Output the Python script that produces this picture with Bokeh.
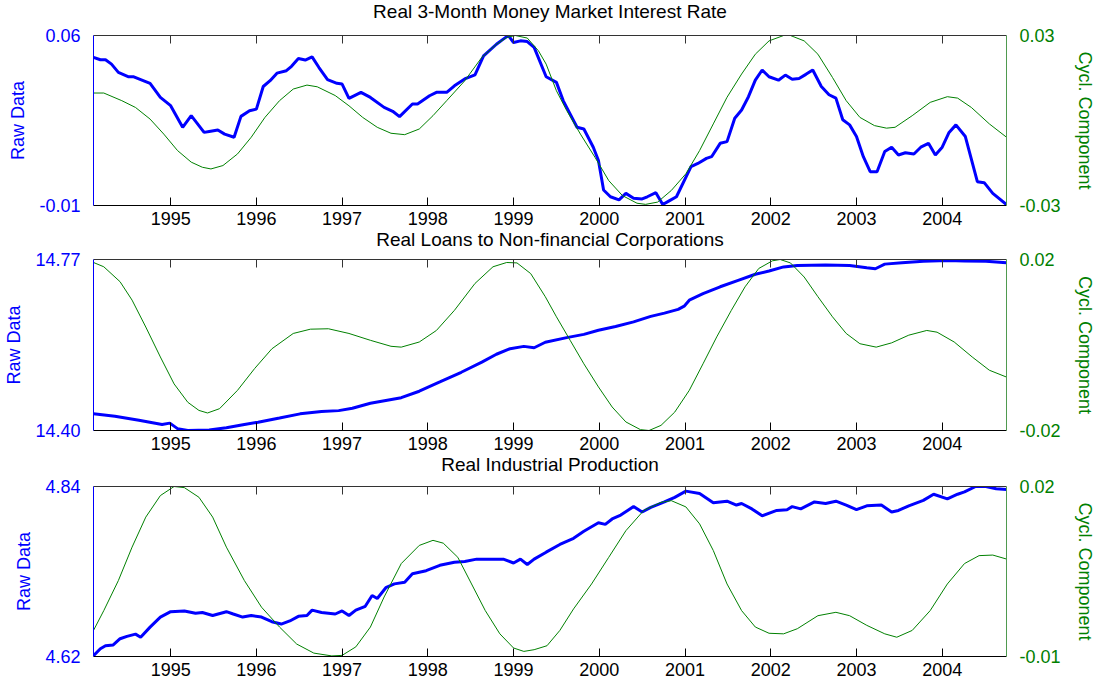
from bokeh.plotting import figure
from bokeh.models import Range1d, LinearAxis, FixedTicker, PrintfTickFormatter, Title
from bokeh.layouts import column
from bokeh.embed import file_html
from bokeh.resources import INLINE

# ---------------- data ----------------
X_START, X_END = 1994.10, 2004.75
YEAR_TICKS = [1995, 1996, 1997, 1998, 1999, 2000, 2001, 2002, 2003, 2004]

TITLES = ["Real 3-Month Money Market Interest Rate",
          "Real Loans to Non-financial Corporations",
          "Real Industrial Production"]
RAW_LABEL = "Raw Data"
CYC_LABEL = "Cycl. Component"

RAW_LIMITS = [(-0.01, 0.06), (14.40, 14.77), (4.62, 4.84)]
CYC_LIMITS = [(-0.03, 0.03), (-0.02, 0.02), (-0.01, 0.02)]

# Panel 1: real 3-month money market interest rate
RATE_T = [1994.10, 1994.18, 1994.24, 1994.31, 1994.39, 1994.51, 1994.57, 1994.76, 1994.88, 1995.00,
          1995.14, 1995.24, 1995.39, 1995.45, 1995.55, 1995.63, 1995.74, 1995.82, 1995.92, 1996.00,
          1996.08, 1996.16, 1996.24, 1996.35, 1996.41, 1996.49, 1996.57, 1996.65, 1996.73, 1996.83,
          1996.94, 1997.00, 1997.08, 1997.22, 1997.33, 1997.49, 1997.59, 1997.67, 1997.82, 1997.88,
          1998.02, 1998.10, 1998.22, 1998.31, 1998.43, 1998.55, 1998.65, 1998.80, 1998.88, 1998.94,
          1999.00, 1999.08, 1999.16, 1999.24, 1999.38, 1999.50, 1999.58, 1999.74, 1999.82, 1999.93,
          1999.99, 2000.05, 2000.13, 2000.23, 2000.31, 2000.40, 2000.50, 2000.56, 2000.66, 2000.74,
          2000.82, 2000.90, 2001.07, 2001.15, 2001.25, 2001.31, 2001.41, 2001.49, 2001.58, 2001.66,
          2001.74, 2001.82, 2001.90, 2001.98, 2002.09, 2002.17, 2002.25, 2002.33, 2002.41, 2002.49,
          2002.59, 2002.68, 2002.76, 2002.84, 2002.92, 2003.00, 2003.08, 2003.16, 2003.24, 2003.33,
          2003.41, 2003.49, 2003.57, 2003.67, 2003.75, 2003.84, 2003.92, 2004.00, 2004.08, 2004.16,
          2004.27, 2004.41, 2004.49, 2004.59, 2004.75]
RATE_RAW = [0.0510, 0.0500, 0.0500, 0.0482, 0.0448, 0.0430, 0.0430, 0.0403, 0.0345, 0.0311,
            0.0222, 0.0270, 0.0201, 0.0205, 0.0211, 0.0194, 0.0181, 0.0267, 0.0290, 0.0297,
            0.0390, 0.0414, 0.0445, 0.0455, 0.0473, 0.0505, 0.0499, 0.0512, 0.0468, 0.0418,
            0.0403, 0.0400, 0.0341, 0.0366, 0.0345, 0.0304, 0.0288, 0.0266, 0.0318, 0.0318,
            0.0352, 0.0366, 0.0366, 0.0393, 0.0421, 0.0438, 0.0516, 0.0564, 0.0585, 0.0600,
            0.0571, 0.0578, 0.0575, 0.0551, 0.0430, 0.0407, 0.0331, 0.0222, 0.0215, 0.0140,
            0.0085, -0.0036, -0.0064, -0.0077, -0.0050, -0.0070, -0.0073, -0.0064, -0.0047, -0.0096,
            -0.0080, -0.0064, 0.0060, 0.0073, 0.0094, 0.0101, 0.0156, 0.0163, 0.0259, 0.0293,
            0.0348, 0.0416, 0.0458, 0.0430, 0.0416, 0.0437, 0.0420, 0.0423, 0.0440, 0.0458,
            0.0390, 0.0356, 0.0342, 0.0253, 0.0232, 0.0184, 0.0101, 0.0039, 0.0039, 0.0122,
            0.0140, 0.0108, 0.0117, 0.0112, 0.0140, 0.0156, 0.0108, 0.0140, 0.0201, 0.0232,
            0.0184, -0.0002, -0.0006, -0.0050, -0.0096]
RATE_CYC_T = [1994.10, 1994.22, 1994.43, 1994.59, 1994.76, 1994.92, 1995.08, 1995.24, 1995.37, 1995.47,
              1995.61, 1995.78, 1995.94, 1996.10, 1996.27, 1996.43, 1996.59, 1996.71, 1996.92, 1997.08,
              1997.24, 1997.41, 1997.57, 1997.73, 1997.90, 1998.06, 1998.22, 1998.43, 1998.63, 1998.80,
              1998.92, 1999.02, 1999.16, 1999.29, 1999.38, 1999.50, 1999.62, 1999.78, 1999.95, 2000.11,
              2000.27, 2000.44, 2000.54, 2000.68, 2000.84, 2001.01, 2001.17, 2001.33, 2001.49, 2001.66,
              2001.82, 2001.98, 2002.15, 2002.23, 2002.39, 2002.55, 2002.72, 2002.88, 2003.04, 2003.21,
              2003.35, 2003.45, 2003.65, 2003.86, 2004.06, 2004.18, 2004.34, 2004.55, 2004.75]
RATE_CYC = [0.0097, 0.0097, 0.0070, 0.0046, 0.0005, -0.0048, -0.0106, -0.0147, -0.0165, -0.0171,
            -0.0159, -0.0118, -0.0059, 0.0011, 0.0070, 0.0111, 0.0125, 0.0119, 0.0088, 0.0052,
            0.0011, -0.0024, -0.0045, -0.0050, -0.0030, 0.0017, 0.0070, 0.0140, 0.0223, 0.0269,
            0.0293, 0.0300, 0.0291, 0.0246, 0.0199, 0.0105, 0.0035, -0.0048, -0.0130, -0.0212,
            -0.0265, -0.0292, -0.0296, -0.0288, -0.0247, -0.0188, -0.0106, -0.0012, 0.0082, 0.0164,
            0.0234, 0.0281, 0.0300, 0.0300, 0.0281, 0.0234, 0.0152, 0.0070, 0.0011, -0.0018,
            -0.0027, -0.0024, 0.0017, 0.0064, 0.0084, 0.0079, 0.0046, -0.0012, -0.0059]

# Panel 2: real loans to non-financial corporations (log level)
LOANS_T = [1994.10, 1994.35, 1994.63, 1994.90, 1994.99, 1995.08, 1995.20, 1995.45, 1995.65, 1995.86,
           1996.02, 1996.27, 1996.51, 1996.76, 1996.96, 1997.12, 1997.33, 1997.69, 1997.90, 1998.14,
           1998.39, 1998.63, 1998.80, 1998.96, 1999.12, 1999.24, 1999.37, 1999.62, 1999.82, 1999.99,
           2000.19, 2000.40, 2000.60, 2000.76, 2000.92, 2000.99, 2001.05, 2001.21, 2001.41, 2001.62,
           2001.82, 2001.98, 2002.15, 2002.31, 2002.64, 2002.92, 2003.12, 2003.22, 2003.33, 2003.53,
           2003.78, 2004.06, 2004.26, 2004.51, 2004.75]
LOANS_RAW = [14.436, 14.431, 14.422, 14.413, 14.416, 14.404, 14.400, 14.401, 14.406, 14.413,
             14.418, 14.427, 14.436, 14.441, 14.443, 14.448, 14.459, 14.471, 14.485, 14.505,
             14.526, 14.548, 14.565, 14.577, 14.582, 14.579, 14.591, 14.601, 14.608, 14.617,
             14.625, 14.635, 14.647, 14.654, 14.662, 14.669, 14.682, 14.696, 14.711, 14.725,
             14.738, 14.745, 14.754, 14.757, 14.758, 14.757, 14.752, 14.750, 14.760, 14.763,
             14.766, 14.768, 14.767, 14.766, 14.763]
LOANS_CYC_T = [1994.10, 1994.22, 1994.41, 1994.55, 1994.71, 1994.88, 1995.04, 1995.20, 1995.33, 1995.43,
               1995.57, 1995.78, 1995.98, 1996.18, 1996.43, 1996.63, 1996.84, 1997.08, 1997.33, 1997.57,
               1997.69, 1997.90, 1998.10, 1998.31, 1998.55, 1998.76, 1998.92, 1999.04, 1999.20, 1999.37,
               1999.50, 1999.66, 1999.82, 1999.99, 2000.15, 2000.31, 2000.48, 2000.58, 2000.72, 2000.88,
               2001.05, 2001.21, 2001.37, 2001.54, 2001.70, 2001.86, 2002.02, 2002.11, 2002.23, 2002.39,
               2002.55, 2002.72, 2002.88, 2003.04, 2003.23, 2003.41, 2003.61, 2003.82, 2003.94, 2004.14,
               2004.35, 2004.55, 2004.75]
LOANS_CYC = [0.0193, 0.0183, 0.0148, 0.0105, 0.0042, -0.0028, -0.0091, -0.0134, -0.0153, -0.0159,
             -0.0149, -0.0106, -0.0055, -0.0009, 0.0027, 0.0037, 0.0038, 0.0027, 0.0011, -0.0003,
             -0.0005, 0.0007, 0.0034, 0.0081, 0.0144, 0.0183, 0.0193, 0.0192, 0.0167, 0.0113,
             0.0066, 0.0011, -0.0044, -0.0098, -0.0145, -0.0180, -0.0198, -0.0200, -0.0188, -0.0157,
             -0.0106, -0.0044, 0.0019, 0.0081, 0.0136, 0.0179, 0.0197, 0.0200, 0.0192, 0.0159,
             0.0113, 0.0066, 0.0027, 0.0003, -0.0005, 0.0005, 0.0023, 0.0034, 0.0030, 0.0007,
             -0.0028, -0.0059, -0.0075]

# Panel 3: real industrial production (log level)
IP_T = [1994.10, 1994.18, 1994.24, 1994.33, 1994.41, 1994.49, 1994.59, 1994.65, 1994.76, 1994.88,
        1995.00, 1995.16, 1995.29, 1995.37, 1995.49, 1995.65, 1995.73, 1995.84, 1995.94, 1996.06,
        1996.18, 1996.29, 1996.39, 1996.49, 1996.59, 1996.65, 1996.76, 1996.92, 1997.00, 1997.08,
        1997.16, 1997.27, 1997.35, 1997.41, 1997.51, 1997.61, 1997.73, 1997.82, 1997.98, 1998.14,
        1998.31, 1998.43, 1998.57, 1998.71, 1998.88, 1999.00, 1999.08, 1999.16, 1999.24, 1999.38,
        1999.54, 1999.70, 1999.82, 1999.99, 2000.07, 2000.15, 2000.25, 2000.40, 2000.50, 2000.60,
        2000.76, 2000.88, 2001.01, 2001.17, 2001.33, 2001.49, 2001.60, 2001.66, 2001.78, 2001.90,
        2002.07, 2002.19, 2002.25, 2002.35, 2002.51, 2002.64, 2002.76, 2002.88, 2003.00, 2003.12,
        2003.29, 2003.41, 2003.49, 2003.61, 2003.78, 2003.90, 2004.06, 2004.18, 2004.26, 2004.39,
        2004.51, 2004.63, 2004.75]
IP_RAW = [4.621, 4.630, 4.634, 4.635, 4.643, 4.646, 4.649, 4.645, 4.658, 4.671,
          4.678, 4.679, 4.676, 4.677, 4.673, 4.678, 4.675, 4.671, 4.673, 4.671,
          4.665, 4.662, 4.666, 4.672, 4.673, 4.680, 4.677, 4.675, 4.679, 4.673,
          4.680, 4.685, 4.699, 4.695, 4.709, 4.714, 4.716, 4.727, 4.731, 4.738,
          4.742, 4.743, 4.746, 4.746, 4.746, 4.741, 4.746, 4.739, 4.746, 4.755,
          4.765, 4.773, 4.782, 4.793, 4.791, 4.798, 4.803, 4.814, 4.807, 4.813,
          4.820, 4.826, 4.834, 4.831, 4.819, 4.821, 4.816, 4.818, 4.811, 4.802,
          4.809, 4.810, 4.814, 4.811, 4.820, 4.818, 4.821, 4.816, 4.810, 4.815,
          4.816, 4.807, 4.809, 4.815, 4.822, 4.830, 4.824, 4.830, 4.833, 4.840,
          4.840, 4.837, 4.836]
IP_CYC_T = [1994.10, 1994.22, 1994.39, 1994.55, 1994.71, 1994.88, 1995.04, 1995.16, 1995.33, 1995.49,
            1995.65, 1995.86, 1996.06, 1996.27, 1996.47, 1996.67, 1996.88, 1997.00, 1997.16, 1997.33,
            1997.49, 1997.69, 1997.90, 1998.06, 1998.18, 1998.35, 1998.51, 1998.67, 1998.84, 1999.00,
            1999.12, 1999.24, 1999.39, 1999.54, 1999.70, 1999.91, 2000.11, 2000.31, 2000.52, 2000.72,
            2000.84, 2001.01, 2001.17, 2001.33, 2001.49, 2001.66, 2001.82, 2001.98, 2002.15, 2002.31,
            2002.55, 2002.76, 2002.92, 2003.12, 2003.33, 2003.47, 2003.65, 2003.86, 2004.06, 2004.26,
            2004.43, 2004.59, 2004.75]
IP_CYC = [-0.0054, -0.0019, 0.0034, 0.0093, 0.0146, 0.0184, 0.0200, 0.0198, 0.0181, 0.0146,
          0.0093, 0.0034, -0.0013, -0.0048, -0.0078, -0.0094, -0.0099, -0.0098, -0.0083, -0.0048,
          0.0005, 0.0064, 0.0096, 0.0105, 0.0100, 0.0075, 0.0028, -0.0019, -0.0060, -0.0085,
          -0.0091, -0.0088, -0.0081, -0.0054, -0.0016, 0.0028, 0.0075, 0.0122, 0.0158, 0.0172,
          0.0175, 0.0164, 0.0134, 0.0087, 0.0028, -0.0019, -0.0048, -0.0059, -0.0060, -0.0051,
          -0.0028, -0.0022, -0.0028, -0.0045, -0.0060, -0.0066, -0.0054, -0.0019, 0.0028, 0.0064,
          0.0078, 0.0079, 0.0072]

# ---------------- styling ----------------
BLUE = "#0000FF"
GREEN = "#008000"
FONT = "Liberation Sans"
FIG_W = 1097
B_LEFT, B_RIGHT = 93, 86   # frame width = 1097 - 93 - 86 = 918


def make_title(text, standoff):
    return Title(text=text, align="center", text_font=FONT, text_font_size="19px",
                 text_font_style="normal", text_color="black", standoff=standoff)


def make_panel(t_raw, raw, t_cyc, cyc, raw_lim, cyc_lim, height, b_top, b_bottom, top_margin):
    p = figure(width=FIG_W, height=height, output_backend="svg", toolbar_location=None,
               x_range=Range1d(X_START, X_END), y_range=Range1d(raw_lim[0], raw_lim[1]),
               x_axis_type=None, y_axis_type=None,
               min_border_left=B_LEFT, min_border_right=B_RIGHT,
               min_border_top=b_top, min_border_bottom=b_bottom,
               margin=(top_margin, 0, 0, 0))
    p.outline_line_color = None
    p.background_fill_color = "white"
    p.border_fill_color = None          # let the panel above show through the overlap
    p.extra_y_ranges = {"cyc": Range1d(cyc_lim[0], cyc_lim[1])}

    xb = LinearAxis(ticker=FixedTicker(ticks=YEAR_TICKS))
    xb.major_tick_in = 8
    xb.major_tick_out = 0
    xb.minor_tick_line_color = None
    xb.major_label_text_font = FONT
    xb.major_label_text_font_size = "18px"
    xb.major_label_text_color = "black"
    xb.major_label_standoff = 6
    xb.axis_line_color = "black"
    xb.major_tick_line_color = "black"
    p.add_layout(xb, "below")

    # top edge of the box with inward ticks, no labels
    xt = LinearAxis(ticker=FixedTicker(ticks=YEAR_TICKS))
    xt.major_tick_in = 8
    xt.major_tick_out = 0
    xt.minor_tick_line_color = None
    xt.major_label_text_font_size = "0px"
    xt.major_label_text_color = None
    xt.major_label_standoff = 0
    xt.axis_line_color = "#333333"
    xt.major_tick_line_color = "#333333"
    p.add_layout(xt, "above")

    yl = LinearAxis(ticker=FixedTicker(ticks=list(raw_lim)),
                    formatter=PrintfTickFormatter(format="%.2f"))
    yl.axis_label = RAW_LABEL
    yl.axis_label_text_color = BLUE
    yl.axis_label_text_font = FONT
    yl.axis_label_text_font_size = "18px"
    yl.axis_label_text_font_style = "normal"
    yl.axis_label_standoff = 8
    yl.axis_line_color = BLUE
    yl.major_tick_line_color = None
    yl.minor_tick_line_color = None
    yl.major_label_text_color = BLUE
    yl.major_label_text_font = FONT
    yl.major_label_text_font_size = "18px"
    yl.major_label_standoff = 7
    p.add_layout(yl, "left")

    yr = LinearAxis(y_range_name="cyc", ticker=FixedTicker(ticks=list(cyc_lim)),
                    formatter=PrintfTickFormatter(format="%.2f"))
    yr.axis_label = CYC_LABEL
    yr.axis_label_text_color = GREEN
    yr.axis_label_text_font = FONT
    yr.axis_label_text_font_size = "18px"
    yr.axis_label_text_font_style = "normal"
    yr.axis_label_standoff = 11
    yr.axis_line_color = "#4f9a4f"
    yr.major_tick_line_color = None
    yr.minor_tick_line_color = None
    yr.major_label_text_color = GREEN
    yr.major_label_text_font = FONT
    yr.major_label_text_font_size = "18px"
    yr.major_label_standoff = 7
    p.add_layout(yr, "right")

    p.line(t_raw, raw, line_width=3, color=BLUE)
    p.line(t_cyc, cyc, line_width=1, color=GREEN, y_range_name="cyc")
    return p


# frames: 35-205, 259-430, 486-656 (page pixels); figures overlap a little
p1 = make_panel(RATE_T, RATE_RAW, RATE_CYC_T, RATE_CYC,
                RAW_LIMITS[0], CYC_LIMITS[0], height=277, b_top=58, b_bottom=49, top_margin=-23)
p2 = make_panel(LOANS_T, LOANS_RAW, LOANS_CYC_T, LOANS_CYC,
                RAW_LIMITS[1], CYC_LIMITS[1], height=235, b_top=13, b_bottom=51, top_margin=-8)
p3 = make_panel(IP_T, IP_RAW, IP_CYC_T, IP_CYC,
                RAW_LIMITS[2], CYC_LIMITS[2], height=211, b_top=13, b_bottom=28, top_margin=-8)
p1.border_fill_color = "white"

# each panel's title sits between the panel and the year labels of the one above
p1.add_layout(make_title(TITLES[0], 28), "above")
p1.add_layout(make_title(TITLES[1], -2), "below")
p2.add_layout(make_title(TITLES[2], -2), "below")

layout = column(p1, p2, p3, spacing=0)
open("out.html", "w").write(file_html(layout, INLINE))
